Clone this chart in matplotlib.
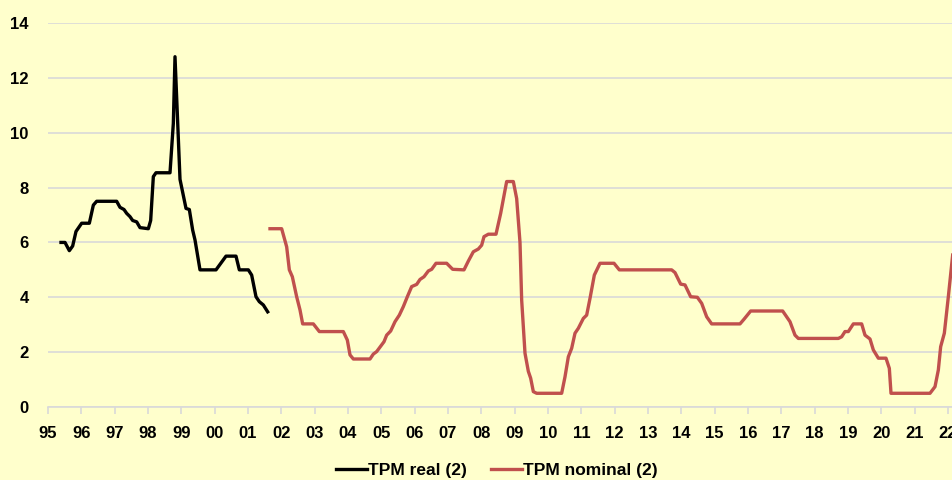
import matplotlib.pyplot as plt
from matplotlib.lines import Line2D

# datos (año decimal, %)
real_t = [1995.39, 1995.51, 1995.64, 1995.74, 1995.84, 1996.01, 1996.24, 1996.36, 1996.46,
          1997.06, 1997.16, 1997.28, 1997.36, 1997.46, 1997.54, 1997.66, 1997.76, 1998.01,
          1998.08, 1998.16, 1998.24, 1998.66, 1998.76, 1998.81, 1998.96, 1999.14, 1999.24,
          1999.34, 1999.41, 1999.56, 2000.04, 2000.34, 2000.64, 2000.74, 2001.01, 2001.11,
          2001.24, 2001.34, 2001.46, 2001.59]
real_v = [6.0, 6.0, 5.7, 5.87, 6.4, 6.7, 6.7, 7.36, 7.5,
          7.5, 7.28, 7.2, 7.06, 6.94, 6.8, 6.75, 6.54, 6.5,
          6.8, 8.4, 8.54, 8.54, 10.34, 12.77, 8.3, 7.24, 7.2,
          6.45, 6.09, 5.0, 5.0, 5.5, 5.5, 5.0, 5.0, 4.81,
          4.02, 3.84, 3.72, 3.47]

nom_t = [2001.66, 2002.01, 2002.16, 2002.24, 2002.33, 2002.46, 2002.56, 2002.64, 2002.96,
         2003.14, 2003.86, 2003.98, 2004.06, 2004.16, 2004.66, 2004.76, 2004.86, 2005.08,
         2005.16, 2005.28, 2005.41, 2005.54, 2005.66, 2005.78, 2005.91, 2006.06, 2006.16,
         2006.28, 2006.41, 2006.51, 2006.64, 2006.96, 2007.14, 2007.48, 2007.61, 2007.76,
         2007.91, 2008.01, 2008.08, 2008.21, 2008.44, 2008.58, 2008.71, 2008.76, 2008.96,
         2009.06, 2009.16, 2009.21, 2009.31, 2009.41, 2009.48, 2009.56, 2009.66, 2010.41,
         2010.51, 2010.61, 2010.71, 2010.81, 2010.91, 2011.06, 2011.16, 2011.26, 2011.39,
         2011.56, 2011.98, 2012.14, 2013.71, 2013.81, 2013.98, 2014.11, 2014.28, 2014.48,
         2014.61, 2014.76, 2014.91, 2015.76, 2015.88, 2016.08, 2017.04, 2017.26, 2017.41,
         2017.51, 2018.71, 2018.81, 2018.91, 2019.01, 2019.16, 2019.41, 2019.51, 2019.66,
         2019.76, 2019.91, 2020.14, 2020.24, 2020.29, 2021.46, 2021.61, 2021.71, 2021.78,
         2021.89, 2022.01, 2022.14]
nom_v = [6.5, 6.5, 5.84, 5.0, 4.75, 4.02, 3.54, 3.03, 3.03,
         2.75, 2.75, 2.44, 1.9, 1.75, 1.75, 1.93, 2.02, 2.38,
         2.62, 2.77, 3.11, 3.35, 3.66, 4.02, 4.39, 4.47, 4.65,
         4.75, 4.96, 5.02, 5.24, 5.24, 5.02, 5.0, 5.32, 5.66,
         5.76, 5.9, 6.21, 6.3, 6.3, 7.06, 7.9, 8.22, 8.22,
         7.6, 6.0, 3.9, 1.96, 1.3, 1.05, 0.56, 0.5, 0.5,
         1.1, 1.83, 2.14, 2.69, 2.87, 3.23, 3.35, 3.96, 4.81,
         5.24, 5.24, 5.0, 5.0, 4.9, 4.48, 4.45, 4.02, 4.0,
         3.78, 3.29, 3.03, 3.03, 3.2, 3.5, 3.5, 3.11, 2.62,
         2.5, 2.5, 2.56, 2.75, 2.75, 3.03, 3.03, 2.62, 2.48,
         2.08, 1.78, 1.78, 1.41, 0.5, 0.5, 0.74, 1.35, 2.2,
         2.69, 4.02, 5.54]

years = list(range(1995, 2023))
year_labels = ['%02d' % (y % 100) for y in years]

bg = '#FFFFCC'
grid_c = '#D9D9D9'
red = '#C0504D'
font = 'Liberation Sans'

fig = plt.figure(figsize=(9.53, 4.8), dpi=100, facecolor=bg)
ax = fig.add_axes([48 / 953, 73 / 480, 905 / 953, 384 / 480])
ax.set_facecolor(bg)

ax.plot(real_t, real_v, color='black', lw=2.4, solid_joinstyle='round')
ax.plot(nom_t, nom_v, color=red, lw=2.4, solid_joinstyle='round')

ax.set_xlim(1995, 2022.15)
ax.set_ylim(0, 14)
ax.set_yticks(range(0, 15, 2))
ax.set_xticks(years)
ax.set_xticklabels(year_labels)
ax.yaxis.grid(True, color=grid_c, lw=1.2)
ax.set_axisbelow(True)

for s in ['top', 'right', 'left']:
    ax.spines[s].set_visible(False)
ax.spines['bottom'].set_color(grid_c)
ax.spines['bottom'].set_linewidth(1.2)

ax.tick_params(axis='x', length=5, color=grid_c, width=1.2, pad=8.5)
ax.tick_params(axis='y', length=0, pad=14)
for lab in ax.get_xticklabels() + ax.get_yticklabels():
    lab.set_fontfamily(font)
    lab.set_fontweight('bold')
    lab.set_fontsize(12)

handles = [Line2D([], [], color='black', lw=2.4), Line2D([], [], color=red, lw=2.4)]
fig.legend(handles, ['TPM real (2)', 'TPM nominal (2)'], loc='center', bbox_to_anchor=(497 / 953, 0.02),
           ncol=2, frameon=False, handlelength=1.75, handletextpad=0.08, columnspacing=1.4,
           prop={'family': font, 'weight': 'bold', 'size': 12.5})

plt.savefig('out.png', dpi=100, facecolor=bg)
